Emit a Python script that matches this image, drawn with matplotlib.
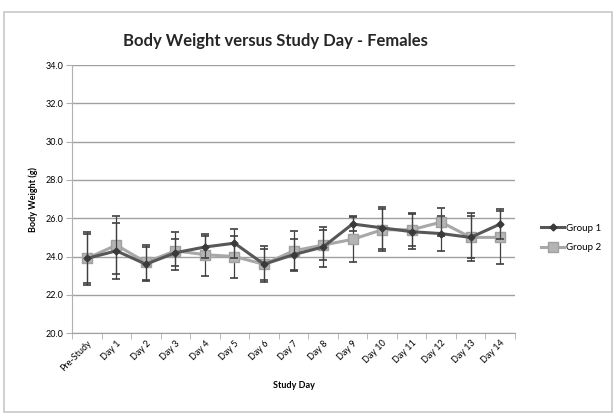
import numpy as np
import matplotlib
matplotlib.use("Agg")
import matplotlib.pyplot as plt
from matplotlib.patches import Rectangle

plt.rcParams['font.family'] = ['Lato', 'DejaVu Sans']

# study days and mean body weight (g) with standard deviations
days = ['Pre-Study', 'Day 1', 'Day 2', 'Day 3', 'Day 4', 'Day 5', 'Day 6', 'Day 7',
        'Day 8', 'Day 9', 'Day 10', 'Day 11', 'Day 12', 'Day 13', 'Day 14']
group1_mean = [23.9, 24.3, 23.6, 24.2, 24.5, 24.7, 23.6, 24.1,
               24.5, 25.7, 25.5, 25.3, 25.2, 25.0, 25.7]
group1_sd = [1.4, 1.45, 0.9, 0.7, 0.6, 0.75, 0.95, 0.8,
             1.05, 0.35, 1.1, 0.9, 0.9, 1.25, 0.8]
group2_mean = [23.9, 24.6, 23.7, 24.3, 24.1, 24.0, 23.6, 24.3,
               24.6, 24.9, 25.4, 25.4, 25.8, 25.0, 25.0]
group2_sd = [1.3, 1.5, 0.9, 1.0, 1.1, 1.1, 0.8, 1.05,
             0.8, 1.2, 1.1, 0.85, 0.75, 1.1, 1.4]

fig = plt.figure(figsize=(6.16, 4.17), dpi=100)
ax = fig.add_axes([0.117, 0.201, 0.719, 0.643])

# chart area border
fig.patches.append(Rectangle((0.007, 0.012), 0.986, 0.96, transform=fig.transFigure,
                             fill=False, edgecolor='#c8c8c8', linewidth=1.2))

x = np.arange(len(days))

eb2 = ax.errorbar(x, group2_mean, yerr=group2_sd, color='#a8a8a8', linewidth=2.2,
                  marker='s', markersize=6.5, markerfacecolor='#b4b4b4', markeredgecolor='#a0a0a0',
                  ecolor='#404040', elinewidth=0.9, capsize=2.8, capthick=1.2, zorder=3)
eb1 = ax.errorbar(x, group1_mean, yerr=group1_sd, color='#575757', linewidth=2.2,
                  marker='D', markersize=3.5, markerfacecolor='#3a3a3a', markeredgecolor='#3a3a3a',
                  ecolor='#404040', elinewidth=0.9, capsize=2.8, capthick=1.2, zorder=4)

ax.set_xlim(-0.5, len(days) - 0.5)
ax.set_ylim(20, 34)
ax.set_yticks(np.arange(20, 34.1, 2))
ax.set_yticklabels([f'{v:.1f}' for v in np.arange(20, 34.1, 2)], fontsize=6.5)
ax.set_xticks(x)
ax.set_xticklabels(days, rotation=45, ha='right', rotation_mode='anchor', fontsize=6.5)
ax.set_xticks(np.arange(-0.5, len(days), 1), minor=True)
ax.tick_params(axis='x', which='major', length=0, pad=4)
ax.tick_params(axis='x', which='minor', length=4, color='#b0b0b0')
ax.tick_params(axis='y', length=4, color='#b0b0b0', pad=2)

ax.grid(axis='y', color='#a0a0a0', linewidth=1.0)
ax.set_axisbelow(True)
for side in ['top', 'right']:
    ax.spines[side].set_visible(False)
ax.spines['left'].set_color('#b0b0b0')
ax.spines['bottom'].set_color('#a0a0a0')

ax.set_ylabel('Body Weight (g)', fontsize=6.5, fontweight='bold', labelpad=6)
ax.set_xlabel('Study Day', fontsize=6.5, fontweight='bold', labelpad=6)

fig.text(0.447, 0.902, 'Body Weight versus Study Day - Females', ha='center', va='center',
         fontsize=12, fontweight='bold', color='#262626')

# legend shows only the line + marker, no error bars
ax.legend([eb1[0], eb2[0]], ['Group 1', 'Group 2'], loc='center left',
          bbox_to_anchor=(1.04, 0.355), frameon=False, fontsize=7,
          handlelength=2.3, handletextpad=0.2, labelspacing=1.1)

fig.savefig('out.png', dpi=100)
